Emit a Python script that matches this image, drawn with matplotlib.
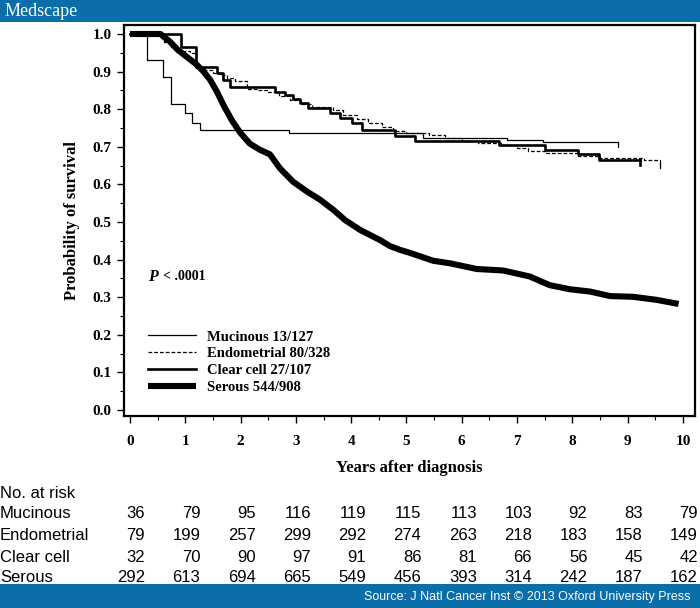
import matplotlib
matplotlib.use("Agg")
import matplotlib.pyplot as plt
from matplotlib.patches import Rectangle
from matplotlib.transforms import blended_transform_factory, ScaledTranslation
from matplotlib.ticker import MultipleLocator

# ---------------- data ----------------
muc_t = [0, 0.30, 0.59, 0.74, 0.99, 1.13, 1.27, 2.88, 5.3, 6.81, 7.46, 8.83]
muc_s = [1.0, 0.931, 0.886, 0.813, 0.789, 0.764, 0.746, 0.736, 0.724, 0.717, 0.712, 0.712]

endo_t = [0, 0.54, 0.62, 0.75, 0.85, 1.08, 1.2, 1.35, 1.5, 1.63, 1.75, 1.9, 2.11, 2.3, 2.5,
          2.7, 2.9, 3.1, 3.3, 3.67, 3.85, 4.1, 4.3, 4.55, 4.75, 5.0, 5.4, 5.7, 6.0, 6.3,
          6.7, 7.0, 7.2, 7.5, 8.1, 8.5, 9.3, 9.58]
endo_s = [1.0, 0.99, 0.98, 0.965, 0.955, 0.95, 0.91, 0.904, 0.897, 0.891, 0.883, 0.875, 0.855,
          0.851, 0.845, 0.835, 0.825, 0.813, 0.806, 0.798, 0.785, 0.775, 0.763, 0.752, 0.742,
          0.738, 0.732, 0.723, 0.715, 0.71, 0.705, 0.697, 0.69, 0.683, 0.676, 0.67, 0.665, 0.657]

clear_t = [0, 0.93, 1.19, 1.58, 1.69, 1.81, 2.62, 2.80, 2.95, 3.07, 3.22, 3.62, 3.80, 4.01,
           4.19, 4.79, 5.15, 6.67, 7.5, 8.1, 8.48, 9.22]
clear_s = [1.0, 0.966, 0.913, 0.895, 0.878, 0.86, 0.847, 0.838, 0.828, 0.817, 0.802, 0.789,
           0.776, 0.762, 0.745, 0.730, 0.716, 0.705, 0.691, 0.680, 0.665, 0.665]

ser_t = [0, 0.55, 0.72, 0.87, 1.02, 1.21, 1.33, 1.45, 1.57, 1.69, 1.84, 1.99, 2.17, 2.35, 2.53,
         2.71, 2.95, 3.20, 3.44, 3.68, 3.89, 4.16, 4.52, 4.70, 4.88, 5.06, 5.18, 5.48, 5.79,
         6.27, 6.75, 7.23, 7.59, 7.96, 8.32, 8.68, 9.10, 9.52, 9.92]
ser_s = [1.0, 1.0, 0.980, 0.957, 0.940, 0.918, 0.900, 0.878, 0.847, 0.811, 0.771, 0.738, 0.708,
         0.692, 0.680, 0.643, 0.607, 0.581, 0.559, 0.532, 0.505, 0.479, 0.452, 0.436, 0.426,
         0.418, 0.412, 0.397, 0.390, 0.375, 0.371, 0.355, 0.332, 0.321, 0.315, 0.303, 0.301,
         0.293, 0.282]

legend_labels = ["Mucinous 13/127", "Endometrial 80/328", "Clear cell 27/107", "Serous 544/908"]

risk_years = list(range(11))
risk_groups = ["Mucinous", "Endometrial", "Clear cell", "Serous"]
risk_muc = [36, 79, 95, 116, 119, 115, 113, 103, 92, 83, 79]
risk_endo = [79, 199, 257, 299, 292, 274, 263, 218, 183, 158, 149]
risk_clear = [32, 70, 90, 97, 91, 86, 81, 66, 56, 45, 42]
risk_ser = [292, 613, 694, 665, 549, 456, 393, 314, 242, 187, 162]

# ---------------- figure ----------------
W, H = 700, 608
BLUE = "#0b6ea9"
fig = plt.figure(figsize=(W / 100, H / 100), dpi=100)

serif = ["Liberation Serif", "DejaVu Serif"]
sans = ["Liberation Sans", "DejaVu Sans"]

ax = fig.add_axes([124 / W, 1 - 416 / H, (695 - 124) / W, (416 - 25) / H])
ax.set_xlim(-6 / 55.3, (695 - 130) / 55.3)
ax.set_ylim(-6 / 376, (410 - 25) / 376)

lm, = ax.plot(muc_t, muc_s, drawstyle="steps-post", color="black", lw=0.9)
le, = ax.plot(endo_t, endo_s, drawstyle="steps-post", color="black", lw=0.9,
              dashes=(3.0, 1.6))
lc, = ax.plot(clear_t, clear_s, drawstyle="steps-post", color="black", lw=1.9)
ls, = ax.plot(ser_t, ser_s, color="black", lw=4.4, solid_joinstyle="round",
              solid_capstyle="butt")

# censor ticks at ends
for t, s, w in [(muc_t, muc_s, 0.9), (endo_t, endo_s, 0.9), (clear_t, clear_s, 1.9)]:
    ax.plot([t[-1], t[-1]], [s[-1], s[-1] - 0.013], color="black", lw=w)

for sp in ax.spines.values():
    sp.set_linewidth(1.6)

ax.xaxis.set_minor_locator(MultipleLocator(0.5))
ax.yaxis.set_minor_locator(MultipleLocator(0.05))
ax.tick_params(which="major", length=5, width=1.0, direction="out")
ax.tick_params(which="minor", length=3, width=0.8, direction="out")
ax.tick_params(axis="x", which="major", pad=9)
ax.tick_params(axis="y", which="major", pad=4)
ax.set_xticks(risk_years)
ax.set_xticklabels([str(v) for v in risk_years], fontfamily=serif, fontweight="bold",
                   fontsize=11)
yt = [i / 10 for i in range(11)]
ax.set_yticks(yt)
ax.set_yticklabels([f"{v:.1f}" for v in yt], fontfamily=serif, fontweight="bold",
                   fontsize=11)

ax.set_xlabel("Years after diagnosis", fontfamily=serif, fontweight="bold", fontsize=12,
              labelpad=8)
ax.set_ylabel("Probability of survival", fontfamily=serif, fontweight="bold",
              fontsize=12, labelpad=9)

ax.text(0.33, 0.355, "P", fontsize=11.5, ha="left", va="center",
        fontfamily=serif, fontstyle="italic", fontweight="bold")
ax.text(0.6, 0.355, "< .0001", fontsize=10, ha="left", va="center",
        fontfamily=serif, fontweight="bold")

leg = ax.legend([lm, le, lc, ls], legend_labels, loc="upper left",
                bbox_to_anchor=(0.032, 0.234), frameon=False, handlelength=3.3,
                handletextpad=0.75, labelspacing=0.24, borderaxespad=0,
                prop={"family": serif, "weight": "bold", "size": 10.5})

# header / footer bands
fig.patches.append(Rectangle((0, 1 - 22 / H), 1, 22 / H, transform=fig.transFigure,
                             facecolor=BLUE, edgecolor="none", zorder=5))
fig.patches.append(Rectangle((0, 0), 1, 24 / H, transform=fig.transFigure,
                             facecolor=BLUE, edgecolor="none", zorder=5))
fig.text(5 / W, 1 - 11 / H, "Medscape", color="white", fontfamily=serif, fontsize=13,
         ha="left", va="center", zorder=6)
fig.text(690 / W, 11 / H, "Source: J Natl Cancer Inst © 2013 Oxford University Press",
         color="white", fontfamily=sans, fontsize=9, ha="right", va="center", zorder=6)

# risk table
fig.text(0, 1 - 493 / H, "No. at risk", fontfamily=sans, fontsize=12, ha="left",
         va="center", zorder=1)
trans = blended_transform_factory(ax.transData, fig.transFigure) + \
    ScaledTranslation(15 / 100, 0, fig.dpi_scale_trans)
rows_y = [514, 536, 557, 577]
for name, vals, py in zip(risk_groups, [risk_muc, risk_endo, risk_clear, risk_ser], rows_y):
    fig.text(0, 1 - py / H, name, fontfamily=sans, fontsize=12, ha="left", va="center",
             zorder=1)
    for yr, v in zip(risk_years, vals):
        fig.text(yr, 1 - py / H, str(v), transform=trans, fontfamily=sans, fontsize=12,
                 ha="right", va="center", zorder=1)

fig.savefig("out.png", dpi=100)
